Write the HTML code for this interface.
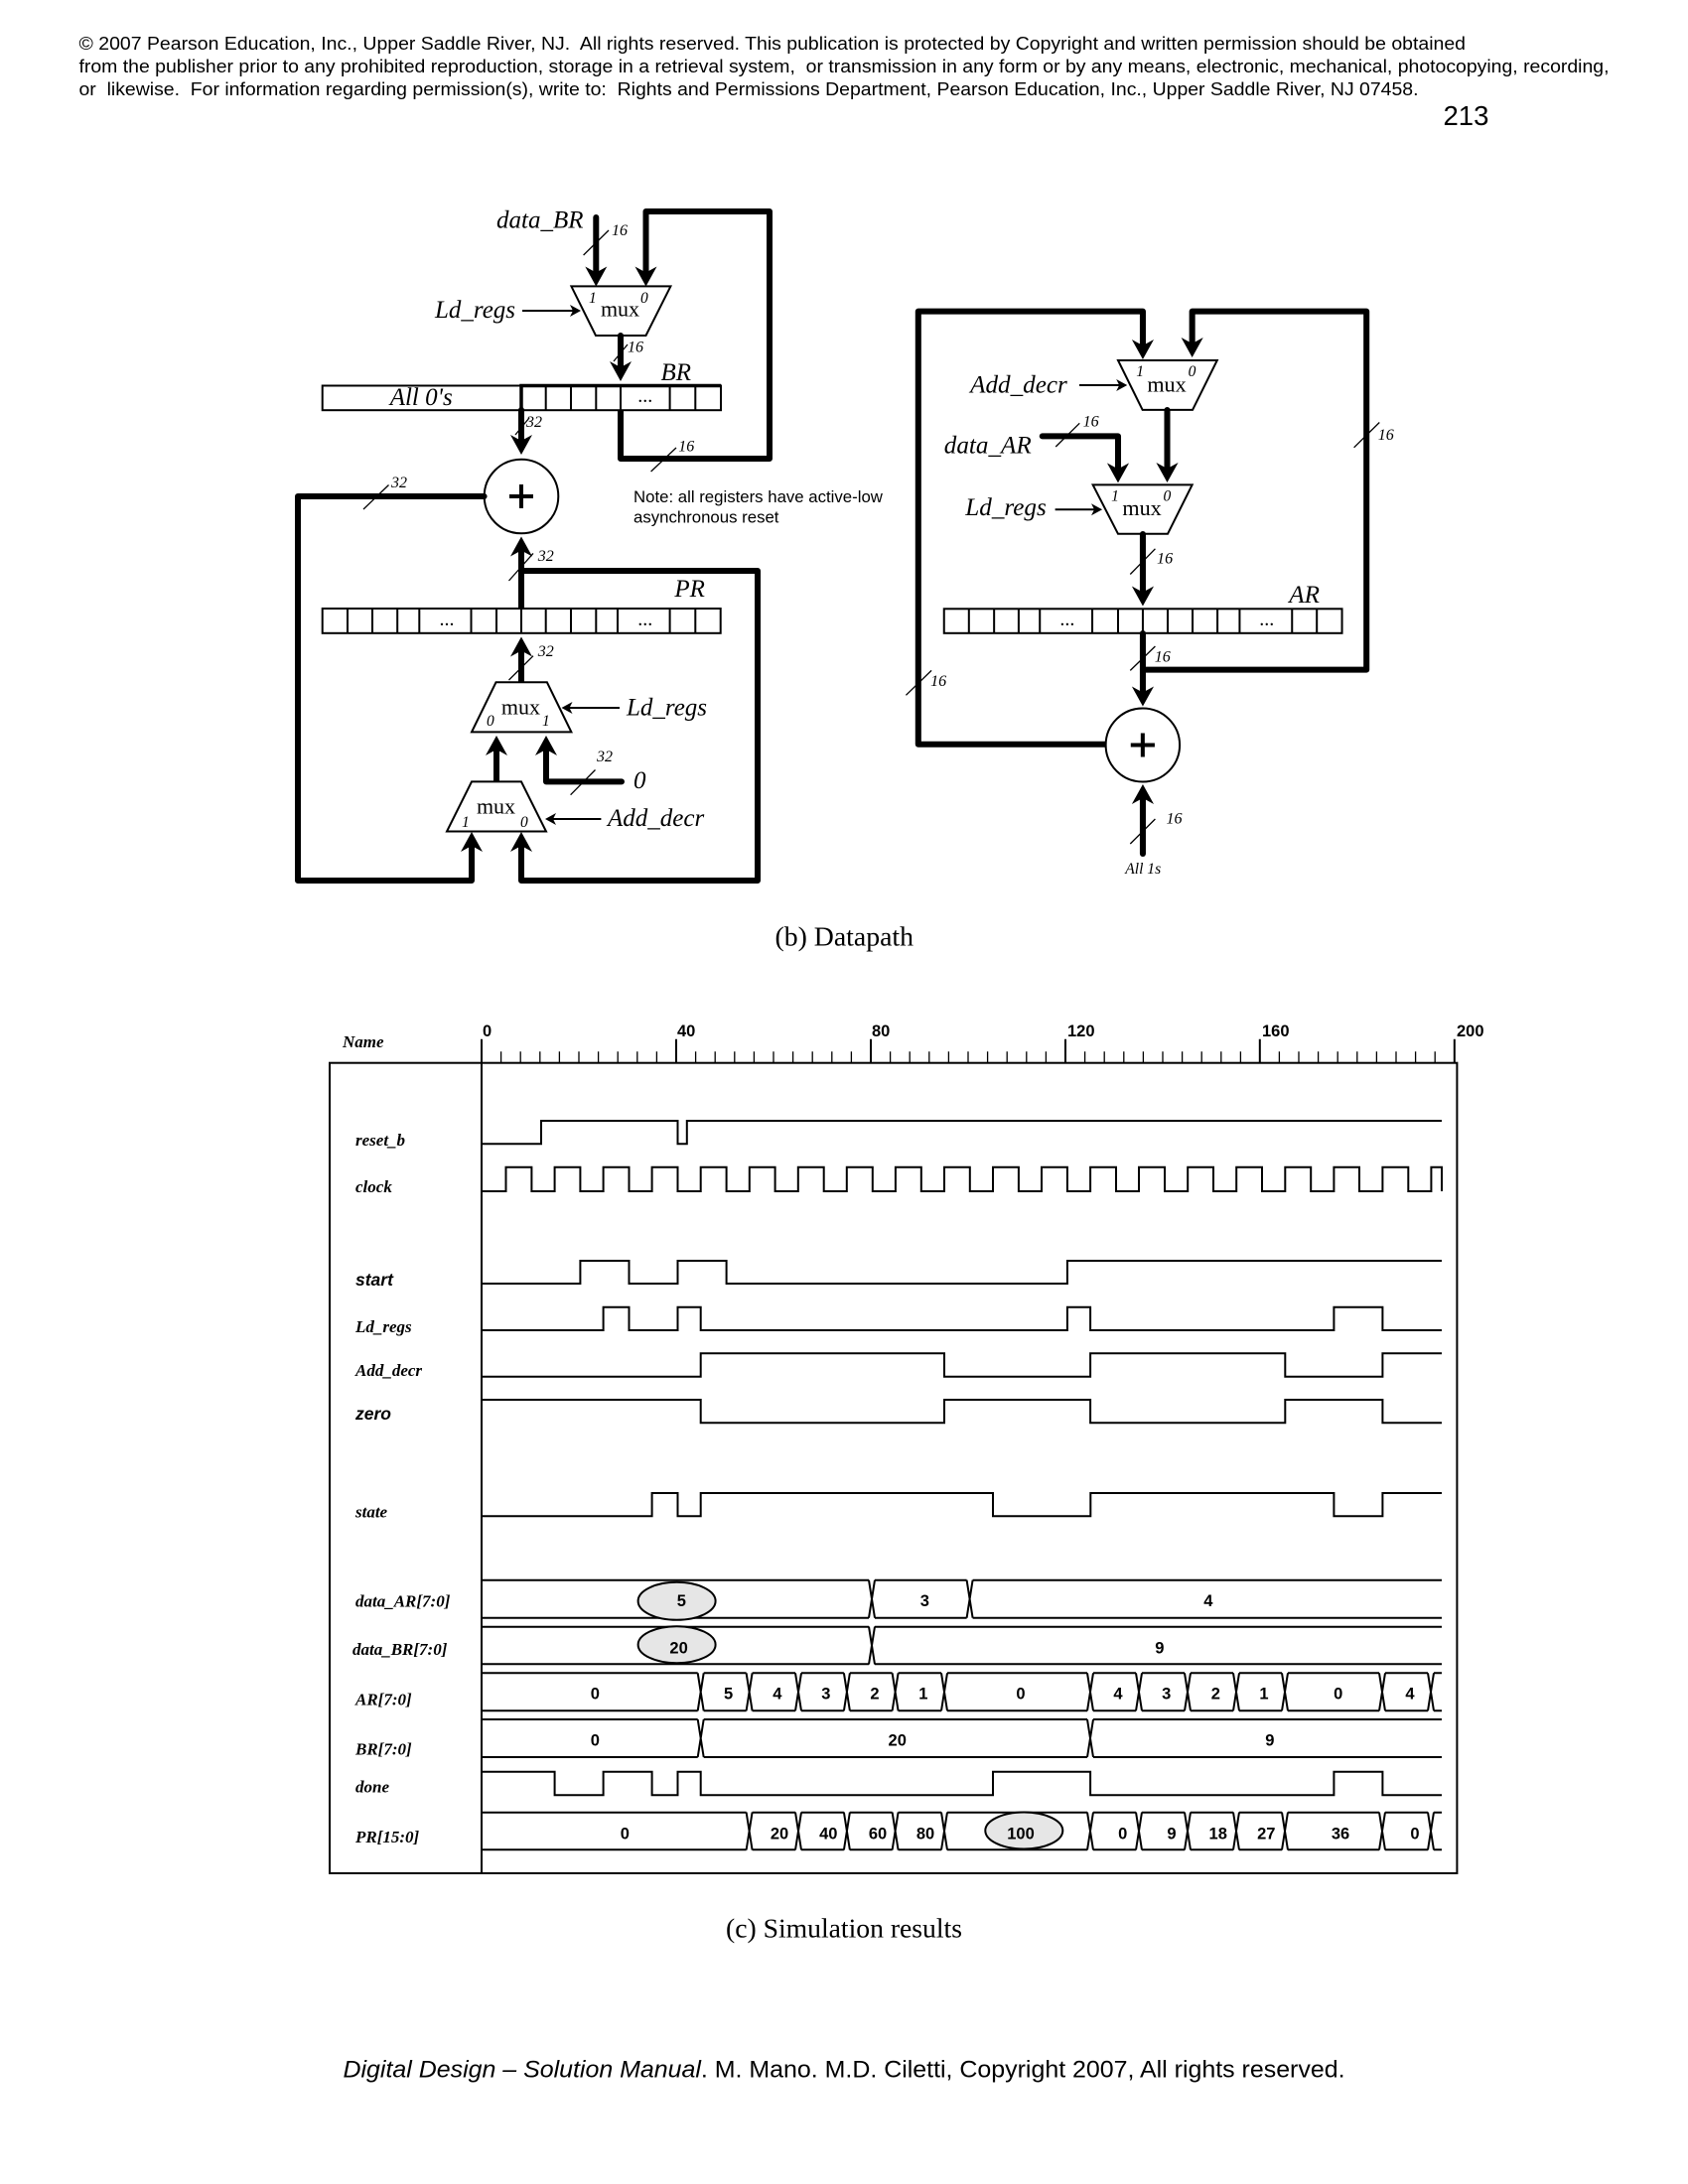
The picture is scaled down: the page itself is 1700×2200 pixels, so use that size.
<!DOCTYPE html>
<html><head><meta charset="utf-8"><style>
html,body{margin:0;padding:0;background:#fff;width:1700px;height:2200px;overflow:hidden}
svg{display:block}
.h{font:18.5px "Liberation Sans",sans-serif;white-space:pre}
.s{font-family:"Liberation Serif",serif;font-style:italic;font-size:25px}
.n{font-family:"Liberation Serif",serif;font-style:italic;font-size:16px}
.b{font-family:"Liberation Serif",serif;font-style:italic;font-size:15.5px}
.m{font-family:"Liberation Serif",serif;font-size:22px;text-anchor:middle}
.l{font-family:"Liberation Serif",serif;font-style:italic;font-weight:bold;font-size:17px}
.la{font-family:"Liberation Sans",sans-serif;font-style:italic;font-weight:bold;font-size:17.5px}
.v{font-family:"Liberation Sans",sans-serif;font-weight:bold;font-size:16.5px;text-anchor:middle}
.t{font-family:"Liberation Sans",sans-serif;font-weight:bold;font-size:16.5px}
.c{font-family:"Liberation Serif",serif;font-size:27.7px}
.w{fill:none;stroke:#000;stroke-width:6;stroke-linejoin:round;stroke-linecap:round}
.thin{fill:none;stroke:#000;stroke-width:2}
.sl{fill:none;stroke:#000;stroke-width:1.3}
.box{fill:#fff;stroke:#000;stroke-width:2}
.d{font-family:"Liberation Serif",serif;font-size:20px;text-anchor:middle}
</style></head><body>
<svg width="1700" height="2200" viewBox="0 0 1700 2200" xmlns="http://www.w3.org/2000/svg">
<defs>
<path id="ah" d="M0 0L-11 -20L0 -14L11 -20Z" fill="#000"/>
<path id="ta" d="M0 0L-11 -6L-8 0L-11 6Z" fill="#000"/>
<g id="x"><rect x="-3" y="-1.5" width="6" height="41" fill="#fff"/><path d="M-3 0L3 38M-3 38L3 0" fill="none" stroke="#000" stroke-width="2"/></g>
</defs>
<rect width="1700" height="2200" fill="#fff"/>

<!-- header -->
<text class="h" x="79.5" y="50" textLength="1396.5" lengthAdjust="spacingAndGlyphs" xml:space="preserve">© 2007 Pearson Education, Inc., Upper Saddle River, NJ.  All rights reserved. This publication is protected by Copyright and written permission should be obtained</text>
<text class="h" x="79.5" y="73" textLength="1541" lengthAdjust="spacingAndGlyphs" xml:space="preserve">from the publisher prior to any prohibited reproduction, storage in a retrieval system,  or transmission in any form or by any means, electronic, mechanical, photocopying, recording,</text>
<text class="h" x="79.5" y="96" textLength="1349" lengthAdjust="spacingAndGlyphs" xml:space="preserve">or  likewise.  For information regarding permission(s), write to:  Rights and Permissions Department, Pearson Education, Inc., Upper Saddle River, NJ 07458.</text>
<text x="1453.5" y="126" font-family="Liberation Sans,sans-serif" font-size="27.5">213</text>

<!-- LEFT DATAPATH -->
<path class="w" d="M600.3 219V274"/>
<path class="w" d="M650.5 274V213H775V462H625V413"/>
<use href="#ah" x="600.3" y="288.5"/><use href="#ah" x="650.5" y="288.5"/>
<path class="sl" d="M587.6 257L613 232"/>
<text class="n" x="616" y="237">16</text>
<text class="s" x="500" y="229.6">data_BR</text>
<polygon class="box" points="575.4,288.4 675.4,288.4 650.5,338 600,338"/>
<text class="m" x="624.5" y="318.7">mux</text>
<text class="b" x="593" y="305">1</text><text class="b" x="645" y="305">0</text>
<text class="s" x="438" y="320">Ld_regs</text>
<path class="thin" d="M526 313H578"/><use href="#ta" x="585" y="313"/>
<path class="w" d="M625 338V370"/><use href="#ah" x="625" y="384"/>
<path class="sl" d="M618 364L632 347"/>
<text class="n" x="632" y="354.5">16</text>
<text class="s" x="665.5" y="383">BR</text>

<rect class="box" x="324.7" y="388.5" width="401.3" height="24.7"/>
<path class="thin" d="M549.7 388V413M575 388V413M600.3 388V413M625 388V413M674.6 388V413M700.3 388V413"/>
<path fill="none" stroke="#000" stroke-width="3.5" d="M525 413V388.5H726"/>
<text class="s" x="392.7" y="408">All 0's</text>
<text class="d" x="649.7" y="405">...</text>
<path class="sl" d="M655.6 475L681 451"/>
<text class="n" x="683.3" y="454.6">16</text>

<path class="w" d="M525 413V444"/><use href="#ah" x="525" y="458"/>
<path class="sl" d="M519 438L533 421"/>
<text class="n" x="530" y="430">32</text>

<circle cx="525" cy="500" r="37.3" class="box"/>
<path fill="none" stroke="#000" stroke-width="4" d="M513 500H537M525 488V512"/>
<path class="w" d="M487.6 500H300V887H475V852"/>
<use href="#ah" x="475" y="838" transform="rotate(180 475 838)"/>
<path class="sl" d="M366 513L391.5 488.5"/>
<text class="n" x="394" y="491">32</text>
<text x="638" y="506" font-family="Liberation Sans,sans-serif" font-size="16.8">Note: all registers have active-low</text>
<text x="638" y="526.5" font-family="Liberation Sans,sans-serif" font-size="16.8">asynchronous reset</text>

<path class="w" d="M525 613V555"/><use href="#ah" x="525" y="540.5" transform="rotate(180 525 540.5)"/>
<path class="sl" d="M512.5 585L537 557.4"/>
<text class="n" x="541.8" y="565">32</text>
<path class="w" d="M525 575H763V887H525V852"/>
<use href="#ah" x="525" y="838" transform="rotate(180 525 838)"/>
<text class="s" x="679.4" y="601">PR</text>

<rect class="box" x="324.7" y="613" width="401" height="24.8"/>
<path class="thin" d="M350 613V638M375 613V638M400.2 613V638M422.3 613V638M474.5 613V638M500 613V638M525 613V638M549.7 613V638M575 613V638M600.3 613V638M622 613V638M674.6 613V638M700.3 613V638"/>
<text class="d" x="450" y="630">...</text><text class="d" x="649.7" y="630">...</text>

<path class="w" d="M525 687V656"/><use href="#ah" x="525" y="641.5" transform="rotate(180 525 641.5)"/>
<path class="sl" d="M512.5 685L537 660.7"/>
<text class="n" x="541.8" y="661">32</text>
<polygon class="box" points="499.5,687.3 550.9,687.3 575.4,737.4 475,737.4"/>
<text class="m" x="524.4" y="719.5">mux</text>
<text class="b" x="490" y="731">0</text><text class="b" x="546" y="731">1</text>
<path class="thin" d="M624 713H572"/><use href="#ta" x="565.5" y="713" transform="rotate(180 565.5 713)"/>
<text class="s" x="631" y="720.4">Ld_regs</text>

<path class="w" d="M500 787V755"/><use href="#ah" x="500" y="741" transform="rotate(180 500 741)"/>
<path class="w" d="M550 755V787.4H626"/><use href="#ah" x="550" y="741" transform="rotate(180 550 741)"/>
<path class="sl" d="M574.6 800.7L599.5 775.5"/>
<text class="n" x="601" y="767">32</text>
<text class="s" x="638" y="794">0</text>

<polygon class="box" points="475,787.4 525,787.4 550,837.5 450,837.5"/>
<text class="m" x="499.5" y="819.6">mux</text>
<text class="b" x="465" y="833">1</text><text class="b" x="524" y="833">0</text>
<path class="thin" d="M605.4 825H556"/><use href="#ta" x="549" y="825" transform="rotate(180 549 825)"/>
<text class="s" x="612" y="832">Add_decr</text>

<!-- RIGHT DATAPATH -->
<g transform="translate(925 0) scale(1.006 1) translate(-925 0)">
<path class="w" d="M1149.6 348V313.6H924.8V749.7H1112"/>
<use href="#ah" x="1149.6" y="362"/>
<path class="w" d="M1199 345V313.6H1373.5V674.6H1149.6"/>
<use href="#ah" x="1199" y="360"/>
<polygon class="box" points="1124.8,363 1224,363 1199.4,412.9 1149.3,412.9"/>
<text class="m" x="1173.5" y="394.7">mux</text>
<text class="b" x="1143" y="379">1</text><text class="b" x="1195" y="379">0</text>
<text class="s" x="976.8" y="395.5">Add_decr</text>
<path class="thin" d="M1086 388H1127"/><use href="#ta" x="1134" y="388"/>
<path class="w" d="M1174 413V472"/><use href="#ah" x="1174" y="486"/>
<text class="s" x="950.6" y="456.7">data_AR</text>
<path class="w" d="M1049 439.4H1124.8V472"/><use href="#ah" x="1124.8" y="486.4"/>
<path class="sl" d="M1062.4 450L1086.3 426.3"/>
<text class="n" x="1089.6" y="429.5">16</text>
<polygon class="box" points="1099.6,488.4 1199,488.4 1174.5,537.8 1124.8,537.8"/>
<text class="m" x="1148.7" y="519">mux</text>
<text class="b" x="1118" y="504.6">1</text><text class="b" x="1170" y="504.6">0</text>
<text class="s" x="972" y="519">Ld_regs</text>
<path class="thin" d="M1061.8 513.3H1102"/><use href="#ta" x="1109" y="513.3"/>
<path class="w" d="M1149.6 538V596"/><use href="#ah" x="1149.6" y="610.5"/>
<path class="sl" d="M1137 578.5L1162 552.8"/>
<text class="n" x="1163.6" y="567.5">16</text>
<text class="s" x="1296" y="607">AR</text>
<rect class="box" x="950.6" y="613.3" width="398.4" height="24.5"/>
<path class="thin" d="M975.5 613V638M1000.7 613V638M1025.3 613V638M1046.5 613V638M1099 613V638M1124.8 613V638M1149.6 613V638M1174.5 613V638M1199.4 613V638M1224.3 613V638M1246.5 613V638M1299 613V638M1323.8 613V638"/>
<text class="d" x="1074" y="630">...</text><text class="d" x="1273.7" y="630">...</text>
<path class="w" d="M1149.6 638V697"/><use href="#ah" x="1149.6" y="711.5"/>
<path class="sl" d="M1137 675.4L1162 651"/>
<text class="n" x="1161.3" y="666.7">16</text>
<circle cx="1149.5" cy="750.5" r="37" class="box"/>
<path fill="none" stroke="#000" stroke-width="4" d="M1137.5 750.5H1161.5M1149.5 738.5V762.5"/>
<path class="w" d="M1149.6 860V805"/><use href="#ah" x="1149.6" y="790" transform="rotate(180 1149.6 790)"/>
<path class="sl" d="M1137 850L1162 825"/>
<text class="n" x="1173" y="829.6">16</text>
<text class="b" x="1132" y="880" font-size="16">All 1s</text>
<path class="sl" d="M1361 450.8L1386.5 425.5"/>
<text class="n" x="1385" y="443">16</text>
<path class="sl" d="M912.5 700.3L938 675.4"/>
<text class="n" x="937" y="691">16</text>
</g>

<text class="c" x="780.5" y="952.3" textLength="139.5" lengthAdjust="spacingAndGlyphs">(b) Datapath</text>

<!-- SIMULATION FRAME -->
<rect x="332" y="1070.7" width="1135.4" height="816.3" fill="none" stroke="#000" stroke-width="2"/>
<path class="thin" d="M485 1070V1887"/>
<path fill="none" stroke="#000" stroke-width="2" d="M485 1046.7V1070M681 1046.7V1070M877 1046.7V1070M1073 1046.7V1070M1268.8 1046.7V1070M1464.8 1046.7V1070"/>
<path fill="none" stroke="#000" stroke-width="1.3" d="M504.6 1059.3V1070M524.2 1059.3V1070M543.8 1059.3V1070M563.4 1059.3V1070M583 1059.3V1070M602.6 1059.3V1070M622.2 1059.3V1070M641.8 1059.3V1070M661.4 1059.3V1070M700.6 1059.3V1070M720.2 1059.3V1070M739.8 1059.3V1070M759.4 1059.3V1070M779 1059.3V1070M798.6 1059.3V1070M818.2 1059.3V1070M837.8 1059.3V1070M857.4 1059.3V1070M896.6 1059.3V1070M916.2 1059.3V1070M935.8 1059.3V1070M955.4 1059.3V1070M975 1059.3V1070M994.6 1059.3V1070M1014.2 1059.3V1070M1033.8 1059.3V1070M1053.4 1059.3V1070M1092.6 1059.3V1070M1112.2 1059.3V1070M1131.8 1059.3V1070M1151.4 1059.3V1070M1171 1059.3V1070M1190.6 1059.3V1070M1210.2 1059.3V1070M1229.8 1059.3V1070M1249.4 1059.3V1070M1288.4 1059.3V1070M1308 1059.3V1070M1327.6 1059.3V1070M1347.2 1059.3V1070M1366.8 1059.3V1070M1386.4 1059.3V1070M1406 1059.3V1070M1425.6 1059.3V1070M1445.2 1059.3V1070"/>
<text class="t" x="486" y="1044">0</text>
<text class="t" x="682" y="1044">40</text>
<text class="t" x="878" y="1044">80</text>
<text class="t" x="1075" y="1044">120</text>
<text class="t" x="1271" y="1044">160</text>
<text class="t" x="1467" y="1044">200</text>
<text class="l" x="345" y="1055">Name</text>

<!-- labels -->
<text class="l" x="358" y="1154">reset_b</text>
<text class="l" x="358" y="1201">clock</text>
<text class="la" x="358" y="1295">start</text>
<text class="l" x="358" y="1342">Ld_regs</text>
<text class="l" x="358" y="1386">Add_decr</text>
<text class="la" x="358" y="1430">zero</text>
<text class="l" x="358" y="1528.7">state</text>
<text class="l" x="358" y="1618.3">data_AR[7:0]</text>
<text class="l" x="355" y="1667">data_BR[7:0]</text>
<text class="l" x="358" y="1717.3">AR[7:0]</text>
<text class="l" x="358" y="1767.3">BR[7:0]</text>
<text class="l" x="358" y="1805.7">done</text>
<text class="l" x="358" y="1856">PR[15:0]</text>

<!-- waves -->
<g class="thin">
<path d="M485 1152.3H545V1129H682.5V1152.3H691.8V1129H1452"/>
<path d="M485 1200H509.5V1175.7H535.4V1200H558.6V1175.7H584.4V1200H607.6V1175.7H633.5V1200H656.6V1175.7H682.5V1200H705.7V1175.7H731.6V1200H754.8V1175.7H780.6V1200H803.8V1175.7H829.7V1200H852.8V1175.7H878.8V1200H901.9V1175.7H927.8V1200H951V1175.7H976.8V1200H1000V1175.7H1025.9V1200H1049V1175.7H1074.9V1200H1098.1V1175.7H1124V1200H1147V1175.7H1173V1200H1196.2V1175.7H1222V1200H1245.2V1175.7H1271V1200H1294.3V1175.7H1320.2V1200H1343.4V1175.7H1369V1200H1392.4V1175.7H1418.3V1200H1441.4V1175.7H1452V1200"/>
<path d="M485 1293H584.4V1270H633.5V1293H682.5V1270H731.6V1293H1074.9V1270H1452"/>
<path d="M485 1340H607.6V1316.7H633.5V1340H682.5V1316.7H705.7V1340H1074.9V1316.7H1098.1V1340H1343.4V1316.7H1392.4V1340H1452"/>
<path d="M485 1386.7H705.7V1363.3H951V1386.7H1098.1V1363.3H1294.3V1386.7H1392.4V1363.3H1452"/>
<path d="M485 1410H705.7V1433.3H951V1410H1098.1V1433.3H1294.3V1410H1392.4V1433.3H1452"/>
<path d="M485 1527.3H656.6V1504H682.5V1527.3H705.7V1504H1000V1527.3H1098.3V1504H1343.4V1527.3H1392.4V1504H1452"/>
<path d="M485 1784.7H558.6V1808.3H607.6V1784.7H656.6V1808.3H682.5V1784.7H705.7V1808.3H1000V1784.7H1098.1V1808.3H1343.4V1784.7H1392.4V1808.3H1452"/>
<!-- bus rails -->
<path d="M485 1591.7H1452M485 1629.7H1452"/>
<path d="M485 1638.7H1452M485 1676.3H1452"/>
<path d="M485 1685.3H1452M485 1723.3H1452"/>
<path d="M485 1732H1452M485 1770H1452"/>
<path d="M485 1825.7H1452M485 1863.3H1452"/>
</g>
<use href="#x" x="878" y="1591.7"/><use href="#x" x="976.6" y="1591.7"/>
<use href="#x" x="878" y="1638.5"/>
<use href="#x" x="705.7" y="1685.3"/><use href="#x" x="754.6" y="1685.3"/><use href="#x" x="804" y="1685.3"/><use href="#x" x="852.9" y="1685.3"/><use href="#x" x="901.6" y="1685.3"/><use href="#x" x="951" y="1685.3"/><use href="#x" x="1098" y="1685.3"/><use href="#x" x="1147" y="1685.3"/><use href="#x" x="1196" y="1685.3"/><use href="#x" x="1245" y="1685.3"/><use href="#x" x="1294" y="1685.3"/><use href="#x" x="1392" y="1685.3"/><use href="#x" x="1441" y="1685.3"/>
<use href="#x" x="705.7" y="1732"/><use href="#x" x="1098" y="1732"/>
<use href="#x" x="754.6" y="1825.5"/><use href="#x" x="804" y="1825.5"/><use href="#x" x="852.9" y="1825.5"/><use href="#x" x="901.6" y="1825.5"/><use href="#x" x="951" y="1825.5"/><use href="#x" x="1098" y="1825.5"/><use href="#x" x="1147" y="1825.5"/><use href="#x" x="1196" y="1825.5"/><use href="#x" x="1245" y="1825.5"/><use href="#x" x="1294" y="1825.5"/><use href="#x" x="1392" y="1825.5"/><use href="#x" x="1441" y="1825.5"/>

<ellipse cx="681.6" cy="1612.8" rx="39" ry="19" fill="#e6e6e6" stroke="#000" stroke-width="2"/>
<ellipse cx="681.6" cy="1656.7" rx="39" ry="18.5" fill="#e6e6e6" stroke="#000" stroke-width="2"/>
<ellipse cx="1031.3" cy="1844" rx="39" ry="18.5" fill="#e6e6e6" stroke="#000" stroke-width="2"/>

<text class="v" x="686.4" y="1618">5</text><text class="v" x="931.3" y="1618">3</text><text class="v" x="1216.8" y="1618">4</text>
<text class="v" x="683.6" y="1665.3">20</text><text class="v" x="1167.8" y="1665.3">9</text>
<text class="v" x="599.3" y="1711.3">0</text><text class="v" x="733.6" y="1711.3">5</text><text class="v" x="782.9" y="1711.3">4</text><text class="v" x="831.8" y="1711.3">3</text><text class="v" x="881" y="1711.3">2</text><text class="v" x="929.8" y="1711.3">1</text><text class="v" x="1028" y="1711.3">0</text><text class="v" x="1126" y="1711.3">4</text><text class="v" x="1174.7" y="1711.3">3</text><text class="v" x="1224.4" y="1711.3">2</text><text class="v" x="1273" y="1711.3">1</text><text class="v" x="1347.7" y="1711.3">0</text><text class="v" x="1420" y="1711.3">4</text>
<text class="v" x="599.3" y="1758.3">0</text><text class="v" x="903.7" y="1758.3">20</text><text class="v" x="1278.8" y="1758.3">9</text>
<text class="v" x="629.3" y="1852.3">0</text><text class="v" x="785" y="1852.3">20</text><text class="v" x="834.3" y="1852.3">40</text><text class="v" x="884" y="1852.3">60</text><text class="v" x="932" y="1852.3">80</text><text class="v" x="1028" y="1852.3">100</text><text class="v" x="1130.7" y="1852.3">0</text><text class="v" x="1180" y="1852.3">9</text><text class="v" x="1226.7" y="1852.3">18</text><text class="v" x="1275.3" y="1852.3">27</text><text class="v" x="1350" y="1852.3">36</text><text class="v" x="1425" y="1852.3">0</text>

<text class="c" x="731" y="1951.7" textLength="238" lengthAdjust="spacingAndGlyphs">(c) Simulation results</text>

<text x="345.5" y="2092.7" font-family="Liberation Sans,sans-serif" font-size="24" textLength="1009" lengthAdjust="spacingAndGlyphs"><tspan font-style="italic">Digital Design – Solution Manual</tspan>. M. Mano. M.D. Ciletti, Copyright 2007, All rights reserved.</text>
</svg>
</body></html>
